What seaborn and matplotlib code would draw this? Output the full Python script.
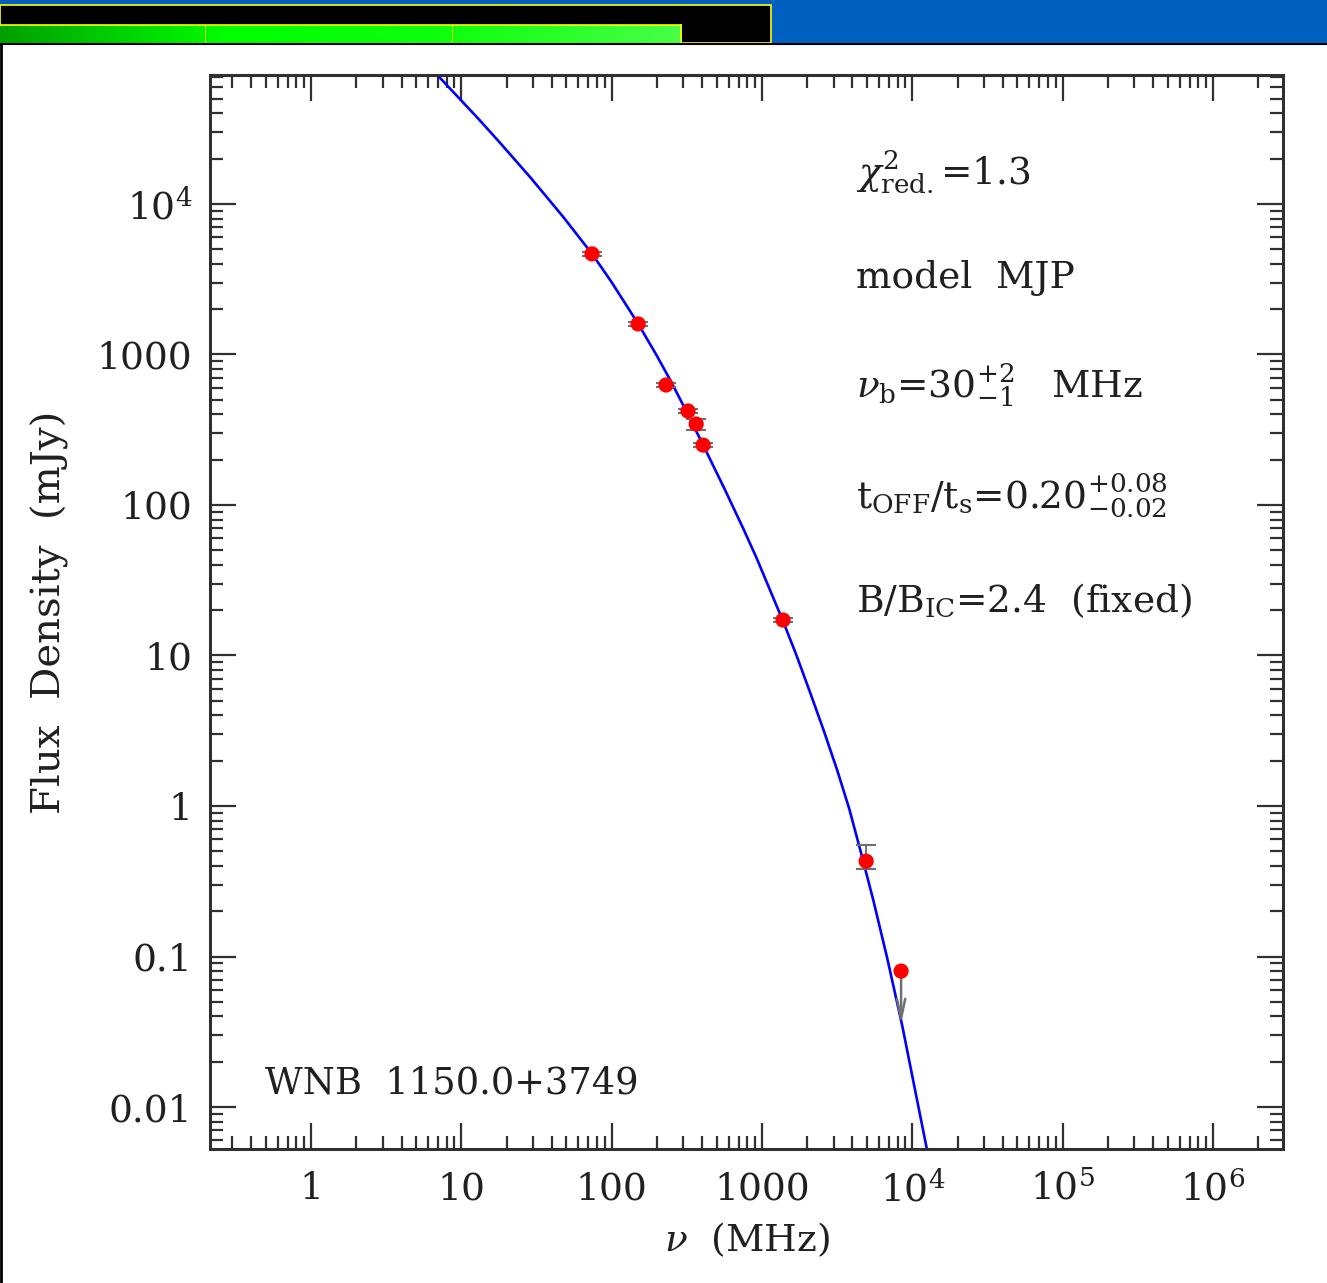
import numpy as np
import pandas as pd
import matplotlib
matplotlib.use("Agg")
import matplotlib.pyplot as plt
import matplotlib.ticker as mticker
from matplotlib.patches import Rectangle
import seaborn as sns

# measured flux densities (MHz, mJy)
freq_mhz = [74, 150, 230, 322, 365, 406, 1380, 4930]
flux_mjy = [4660, 1596, 627, 421, 345, 250, 17.2, 0.43]
flux_err_lo = [150, 50, 20, 14, 28, 9, 0.6, 0.05]
flux_err_hi = [150, 50, 20, 14, 28, 9, 0.6, 0.12]

# upper limit
ul_freq = [8420]
ul_flux = [0.080]
ul_arrow_to = [0.034]

# fitted model curve
model_freq = [6.31, 6.89, 9.79, 13.18, 18.07, 28.64, 36.06, 47.53, 74.13, 100,
              150, 199.5, 251.2, 316.2, 405.5, 562.3, 748.2, 912, 1081, 1380,
              1698, 2089, 2570, 3162, 3802, 4498, 5495, 6792, 8551, 10350,
              12530, 13490]
model_flux = [79250, 72280, 49770, 36220, 25530, 15100, 11460, 8222, 4656, 3020,
              1600, 984, 647, 413, 251, 128.5, 70.2, 45.4, 30.3, 16.94,
              10.0, 5.69, 3.19, 1.734, 0.962, 0.514, 0.238, 0.0986, 0.0351, 0.0135,
              0.00519, 0.00356]

x_ticks = [1, 10, 100, 1000, 1e4, 1e5, 1e6]
x_ticklabels = ["1", "10", "100", "1000", r"$10^4$", r"$10^5$", r"$10^6$"]
y_ticks = [0.01, 0.1, 1, 10, 100, 1000, 1e4]
y_ticklabels = ["0.01", "0.1", "1", "10", "100", "1000", r"$10^4$"]

fit_lines = [
    r"$\chi^2_{\rm red.}$=1.3",
    "model  MJP",
    r"$\nu_{\rm b}$=30$^{+2}_{-1}$   MHz",
    r"t$_{\rm OFF}$/t$_{\rm s}$=0.20$^{+0.08}_{-0.02}$",
    r"B/B$_{\rm IC}$=2.4  (fixed)",
]
source_name = "WNB  1150.0+3749"

sns.set_style("ticks")
plt.rcParams["font.family"] = ["DejaVu Serif"]
plt.rcParams["mathtext.fontset"] = "dejavuserif"

W, H = 1327, 1283
fig = plt.figure(figsize=(W / 100, H / 100), dpi=100)
fig.patch.set_facecolor("white")

# top banner
fig.patches.append(Rectangle((0, 1 - 43 / H), 1, 43 / H, transform=fig.transFigure,
                             facecolor="#0060c0", edgecolor="none", zorder=0))
fig.patches.append(Rectangle((0, 1 - 43 / H), 771 / W, 38 / H, transform=fig.transFigure,
                             facecolor="black", edgecolor="#ffff00", linewidth=1.2, zorder=1))
grad_ax = fig.add_axes([0, 1 - 43 / H, 681 / W, 18 / H], zorder=5)
grad = np.linspace(0, 1, 256)
cmap = matplotlib.colors.LinearSegmentedColormap.from_list(
    "bar", ["#00a000", "#00ff00", "#10ff10", "#48ff48"])
grad_ax.imshow(grad[None, :], aspect="auto", cmap=cmap)
grad_ax.axvline(204 / 681 * 255, color="#ffff00", lw=0.6)
grad_ax.axvline(452 / 681 * 255, color="#ffff00", lw=0.6)
grad_ax.set_xticks([])
grad_ax.set_yticks([])
for side in ["left", "bottom"]:
    grad_ax.spines[side].set_visible(False)
for side in ["top", "right"]:
    grad_ax.spines[side].set_color("#ffff00")
    grad_ax.spines[side].set_linewidth(1.2)
# frame lines of the white panel
fig.add_artist(plt.Line2D([0, 1], [1 - 43.5 / H] * 2, transform=fig.transFigure, color="black", lw=1.5, zorder=6))
fig.add_artist(plt.Line2D([0.8 / W] * 2, [0, 1 - 43 / H], transform=fig.transFigure, color="black", lw=2))

ax = fig.add_axes([210 / W, 1 - 1149 / H, 1073 / W, 1074 / H])
ax.set_xscale("log")
ax.set_yscale("log")

curve = pd.DataFrame({"freq": model_freq, "flux": model_flux})
sns.lineplot(data=curve, x="freq", y="flux", ax=ax, color="#0000ff", lw=1.9,
             sort=False, zorder=2)

ax.errorbar(freq_mhz, flux_mjy, yerr=[flux_err_lo, flux_err_hi], fmt="none",
            ecolor="#707070", elinewidth=1.4, capsize=7, capthick=1.5, zorder=3)
for f, s, e in zip(ul_freq, ul_flux, ul_arrow_to):
    ax.annotate("", xy=(f, e), xytext=(f, s),
                arrowprops=dict(arrowstyle="->,head_length=1.4,head_width=0.3",
                                color="#707070", lw=1.8), zorder=3)

pts = pd.DataFrame({"freq": freq_mhz + ul_freq, "flux": flux_mjy + ul_flux})
sns.scatterplot(data=pts, x="freq", y="flux", ax=ax, color="#ff0000", s=120,
                edgecolor="none", zorder=4)

ax.set_xlim(10 ** -0.672, 10 ** 6.466)
ax.set_ylim(10 ** -2.279, 10 ** 4.857)

ax.xaxis.set_major_locator(mticker.FixedLocator(x_ticks))
ax.xaxis.set_major_formatter(mticker.FixedFormatter(x_ticklabels))
ax.yaxis.set_major_locator(mticker.FixedLocator(y_ticks))
ax.yaxis.set_major_formatter(mticker.FixedFormatter(y_ticklabels))
ax.xaxis.set_minor_locator(mticker.LogLocator(base=10, subs=np.arange(2, 10), numticks=20))
ax.yaxis.set_minor_locator(mticker.LogLocator(base=10, subs=np.arange(2, 10), numticks=20))
ax.xaxis.set_minor_formatter(mticker.NullFormatter())
ax.yaxis.set_minor_formatter(mticker.NullFormatter())

ax.tick_params(which="both", direction="in", top=True, right=True, color="#303030")
ax.tick_params(which="major", length=19, width=1.6, labelsize=27, pad=16, labelcolor="#202020")
ax.tick_params(which="minor", length=9.5, width=1.6)
ax.tick_params(axis="y", which="major", pad=13)
for sp in ax.spines.values():
    sp.set_linewidth(2.2)
    sp.set_color("#303030")

ax.set_xlabel(r"$\nu$  (MHz)", fontsize=27, labelpad=8, color="#202020")
ax.set_ylabel("Flux  Density  (mJy)", fontsize=29, labelpad=20, color="#202020")

line_y = [172, 278, 385, 495, 601]
for txt, py in zip(fit_lines, line_y):
    ax.text(856 / W, 1 - py / H, txt, transform=fig.transFigure, fontsize=27,
            va="center", ha="left", color="#202020")
ax.text(265 / W, 1 - 1084 / H, source_name, transform=fig.transFigure, fontsize=26.5,
        va="center", ha="left", color="#202020")

fig.savefig("out.png", dpi=100)
